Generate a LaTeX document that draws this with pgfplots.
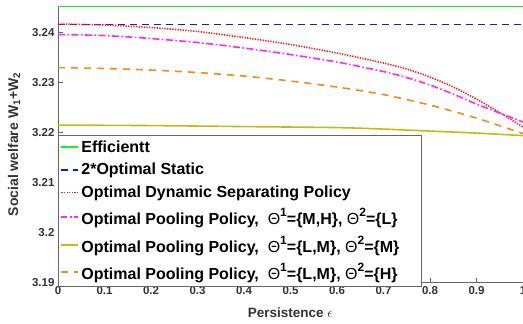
\documentclass[border=0pt]{standalone}
\usepackage{fontspec}
\setmainfont{Liberation Sans}
\usepackage{pgfplots}
\pgfplotsset{compat=1.18}
\definecolor{effgreen}{rgb}{0.1,0.95,0.1}
\definecolor{statblue}{rgb}{0.05,0.1,0.95}
\definecolor{dynred}{rgb}{1,0.1,0.1}
\definecolor{poolmag}{rgb}{1,0.15,1}
\definecolor{poololive}{rgb}{0.76,0.74,0.05}
\definecolor{poolorange}{rgb}{0.92,0.55,0.12}
\definecolor{axisgray}{rgb}{0.4,0.4,0.4}
\definecolor{labelgray}{rgb}{0.2,0.2,0.2}
\tikzset{
  sEff/.style={color=effgreen, line width=1.6pt, solid},
  sSta/.style={color=statblue, line width=1.6pt, dash pattern=on 7pt off 5pt},
  sDyn/.style={color=dynred, line width=1.6pt, dash pattern=on 1.3pt off 1.3pt},
  sMag/.style={color=poolmag, line width=1.6pt, dash pattern=on 7pt off 2.5pt on 1.5pt off 2.5pt},
  sOli/.style={color=poololive, line width=1.6pt, solid},
  sOra/.style={color=poolorange, line width=1.6pt, dash pattern=on 7pt off 6pt},
}
\newcommand\Th{{\mdseries Θ}}
\newcommand\sps[1]{\raisebox{0.5em}{\fontsize{12}{12}\selectfont #1}}
\begin{document}
\begin{tikzpicture}
\begin{axis}[
  scale only axis, width=465pt, height=276.7pt,
  xmin=0, xmax=1, ymin=3.19, ymax=3.2453,
  xtick={0,0.1,0.2,0.3,0.4,0.5,0.6,0.7,0.8,0.9,1},
  xticklabels={0,0.1,0.2,0.3,0.4,0.5,0.6,0.7,0.8,0.9,1},
  ytick={3.19,3.2,3.21,3.22,3.23,3.24},
  yticklabels={3.19,3.2,3.21,3.22,3.23,3.24},
  axis x line*=bottom, axis y line*=left,
  tick align=inside, major tick length=5pt,
  axis line style={color=axisgray, line width=0.9pt, -},
  every tick/.style={color=axisgray, line width=0.7pt},
  ticklabel style={font=\bfseries\fontsize{11.5}{11.5}\selectfont, text=labelgray},
  /pgf/number format/assume math mode=true,
  clip=false,
  xlabel={Persistence {\mdseries$\epsilon$}},
  ylabel={Social welfare W\textsubscript{1}+W\textsubscript{2}},
  xlabel style={at={(rel axis cs:0.5,0)}, anchor=center, yshift=-30pt, font=\bfseries\fontsize{13.5}{13.5}\selectfont, text=labelgray},
  ylabel style={at={(axis description cs:-0.0946,0.5)}, anchor=center, rotate=0, font=\bfseries\fontsize{14}{14}\selectfont, text=labelgray},
  legend style={at={(0,0)}, anchor=south west, yshift=-4.3pt, draw=axisgray, line width=0.8pt, fill=white,
    font=\bfseries\fontsize{16}{18}\selectfont, inner xsep=2pt, inner ysep=3pt,
    nodes={inner ysep=2.5pt}, row sep=4.5pt},
  legend cell align=left,
]
\addplot[sEff, legend image code/.code={\draw[sEff] (0pt,0pt) -- (17pt,0pt);}] coordinates {(0,3.2452) (1,3.2452)};
\addlegendentry{Efficientt}
\addplot[sSta, legend image code/.code={\draw[sSta] (0pt,0pt) -- (17pt,0pt);}] coordinates {(0,3.2416) (1,3.2416)};
\addlegendentry{2*Optimal Static}
\addplot[sDyn, smooth, tension=0.4, legend image code/.code={\draw[sDyn] (0pt,0pt) -- (17pt,0pt);}] coordinates {
(0,3.2417) (0.1,3.2415) (0.2,3.2410) (0.3,3.2402) (0.4,3.2390) (0.5,3.2376) (0.6,3.2359)
(0.7,3.2339) (0.75,3.2327) (0.8,3.2311) (0.85,3.2291) (0.9,3.2267) (0.95,3.2240) (1,3.2211)};
\addlegendentry{Optimal Dynamic Separating Policy}
\addplot[sMag, smooth, tension=0.4, legend image code/.code={\path[draw={rgb,1:red,1;green,0.15;blue,1}, line width=2pt, solid] (0pt,0pt) -- (6pt,0pt) (8.5pt,0pt) -- (10.5pt,0pt) (12.5pt,0pt) -- (17pt,0pt);}] coordinates {
(0,3.2396) (0.1,3.2394) (0.2,3.2388) (0.3,3.2380) (0.4,3.2369) (0.5,3.2356) (0.6,3.2341)
(0.7,3.2322) (0.75,3.2310) (0.8,3.2295) (0.85,3.2277) (0.9,3.2257) (0.95,3.2239) (1,3.2221)};
\addlegendentry{Optimal Pooling Policy,\ \ \Th\sps{1}=\{M,H\}, \Th\sps{2}=\{L\}}
\addplot[sOli, smooth, tension=0.4, legend image code/.code={\draw[sOli] (0pt,0pt) -- (17pt,0pt);}] coordinates {
(0,3.2215) (0.2,3.2214) (0.4,3.2212) (0.6,3.2210) (0.7,3.2207) (0.8,3.2203) (0.9,3.2199) (1,3.2194)};
\addlegendentry{Optimal Pooling Policy,\ \ \Th\sps{1}=\{L,M\}, \Th\sps{2}=\{M\}\hspace*{18pt}}
\addplot[sOra, smooth, tension=0.4, legend image code/.code={\draw[sOra] (0pt,0pt) -- (17pt,0pt);}] coordinates {
(0,3.2330) (0.1,3.2328) (0.2,3.2325) (0.3,3.2320) (0.4,3.2313) (0.5,3.2303) (0.6,3.2291)
(0.7,3.2276) (0.8,3.2255) (0.9,3.2229) (1,3.2198)};
\addlegendentry{Optimal Pooling Policy,\ \ \Th\sps{1}=\{L,M\}, \Th\sps{2}=\{H\}}
\end{axis}
\pgfresetboundingbox
\path[use as bounding box] (-58pt,-41.3pt) rectangle (465pt,282.7pt);
\end{tikzpicture}
\end{document}
